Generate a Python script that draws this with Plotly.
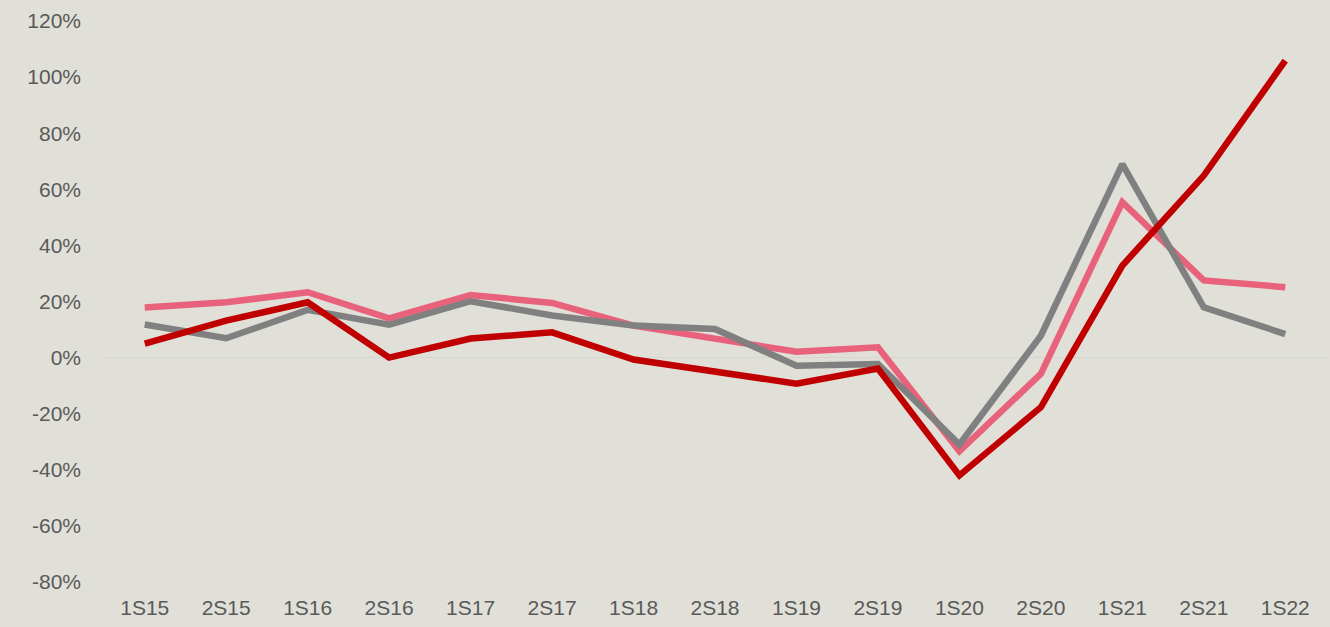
import plotly.graph_objects as go

categories = ["1S15", "2S15", "1S16", "2S16", "1S17", "2S17", "1S18", "2S18",
              "1S19", "2S19", "1S20", "2S20", "1S21", "2S21", "1S22"]
red_values = [5.0, 13.2, 19.7, 0.0, 6.8, 9.0, -0.7, -5.2, -9.3, -3.9, -42.0, -17.7, 32.8, 64.9, 105.9]
pink_values = [17.9, 19.7, 23.3, 14.0, 22.3, 19.5, 11.4, 6.7, 2.1, 3.7, -33.4, -5.8, 55.4, 27.5, 25.1]
gray_values = [11.8, 6.9, 17.0, 11.7, 20.1, 15.0, 11.4, 10.2, -2.9, -2.3, -31.0, 7.8, 69.0, 17.9, 8.4]
y_ticks = [-80, -60, -40, -20, 0, 20, 40, 60, 80, 100, 120]

fig = go.Figure()
for vals, col in [(pink_values, "#E8627C"), (gray_values, "#808080"), (red_values, "#C00000")]:
    fig.add_trace(go.Scatter(x=categories, y=vals, mode="lines",
                             line=dict(color=col, width=6.5), showlegend=False))

bg = "#E0E0D8"
fig.update_layout(
    width=1330, height=627,
    paper_bgcolor=bg, plot_bgcolor=bg,
    margin=dict(l=104, r=4, t=21, b=45),
    font=dict(family="Liberation Sans, Arial, sans-serif", size=21, color="#595959"),
)
fig.update_xaxes(type="category", range=[-0.5, 14.5], showgrid=False, zeroline=False,
                 showline=False, ticks="", ticklabelstandoff=11)
fig.update_yaxes(range=[-80, 120], tickvals=y_ticks, ticktext=[f"{v}%" for v in y_ticks],
                 showgrid=False, zeroline=True, zerolinecolor="#D6D6D0", zerolinewidth=1,
                 showline=False, ticks="", ticklabelstandoff=22)

fig.write_html("out.html", config={"displayModeBar": False},
               post_script="document.body.style.margin='0';document.body.style.overflow='hidden';"
                           "document.body.style.background='#E0E0D8';")
